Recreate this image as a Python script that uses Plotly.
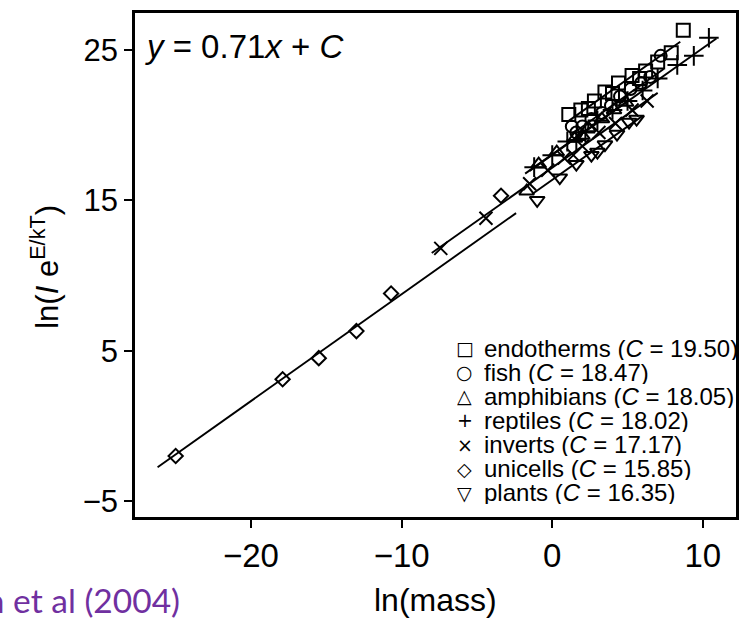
import plotly.graph_objects as go

# ---------------- data ----------------
SLOPE = 0.71
group_names = ["endotherms", "fish", "amphibians", "reptiles", "inverts", "unicells", "plants"]
intercepts = [19.50, 18.47, 18.05, 18.02, 17.17, 15.85, 16.35]
legend_glyphs = ["\u25A1", "\u25CB", "\u25B3", "+", "\u00D7", "\u25C7", "\u25BD"]
fit_x_start = [1.0, 1.2, -1.8, -1.5, -8.0, -26.2, -1.3]
fit_x_end = [8.5, 7.4, 5.0, 10.9, 7.0, -2.4, 6.0]

endotherms_x = [1.1, 1.9, 2.4, 2.8, 3.5, 4.0, 4.4, 5.3, 5.8, 6.2, 7.0, 7.9, 8.7]
endotherms_y = [20.7, 21.0, 21.1, 21.6, 22.2, 22.1, 22.8, 23.3, 23.1, 23.6, 24.2, 24.8, 26.3]

fish_x = [1.3, 1.6, 2.0, 2.6, 3.3, 3.9, 4.5, 5.2, 5.9, 6.5, 7.2]
fish_y = [19.9, 19.5, 19.9, 20.4, 20.8, 21.3, 21.9, 22.4, 22.8, 23.2, 24.6]

amphibians_x = [-1.7, -0.9, 0.3, 1.5, 2.0, 2.4, 3.3, 4.1, 4.9]
amphibians_y = [15.6, 17.4, 18.2, 19.1, 19.3, 19.8, 20.4, 21.0, 21.5]

reptiles_x = [-1.2, 0.0, 1.0, 1.6, 2.2, 3.0, 4.0, 5.0, 6.0, 7.0, 8.3, 9.4, 10.4]
reptiles_y = [17.2, 18.0, 18.9, 19.0, 19.5, 20.3, 21.0, 21.6, 22.3, 23.1, 24.0, 24.6, 25.8]

inverts_x = [-7.4, -4.4, -1.5, -0.3, 0.8, 1.4, 2.0, 3.1, 4.2, 5.3, 6.3]
inverts_y = [11.8, 13.8, 16.1, 17.0, 17.8, 18.0, 18.6, 19.5, 20.1, 21.0, 21.6]

unicells_x = [-25.0, -17.9, -15.5, -13.0, -10.7, -3.4]
unicells_y = [-2.0, 3.1, 4.5, 6.3, 8.8, 15.3]

plants_x = [-1.0, 0.5, 1.6, 2.6, 3.0, 3.5, 4.3, 5.1, 5.6]
plants_y = [15.0, 16.5, 17.4, 18.0, 18.2, 18.7, 19.4, 20.2, 20.4]

x_tick_vals = [-20, -10, 0, 10]
x_tick_text = ["\u221220", "\u221210", "0", "10"]
y_tick_vals = [-5, 5, 15, 25]
y_tick_text = ["\u22125", "5", "15", "25"]

# ---------------- figure ----------------
series_x = [endotherms_x, fish_x, amphibians_x, reptiles_x, inverts_x, unicells_x, plants_x]
series_y = [endotherms_y, fish_y, amphibians_y, reptiles_y, inverts_y, unicells_y, plants_y]
symbols = ["square-open", "circle-open", "triangle-up-open", "cross-thin-open",
           "x-thin-open", "diamond-open", "triangle-down-open"]
sizes = [13, 12, 13, 14, 13, 11, 13]

fig = go.Figure()

for i, name in enumerate(group_names):
    x0, x1 = fit_x_start[i], fit_x_end[i]
    fig.add_trace(go.Scatter(
        x=[x0, x1], y=[SLOPE * x0 + intercepts[i], SLOPE * x1 + intercepts[i]],
        mode="lines", line=dict(color="black", width=1.9), showlegend=False,
        hoverinfo="skip"))

for i, name in enumerate(group_names):
    fig.add_trace(go.Scatter(
        x=series_x[i], y=series_y[i], mode="markers", name=name,
        marker=dict(symbol=symbols[i], size=sizes[i], color="black",
                    line=dict(color="black", width=2)),
        showlegend=False))

FONT = "Liberation Sans, Arial, sans-serif"
L, R, T, B = 135, 11, 10, 102
W, H = 749, 619
pw, ph = W - L - R, H - T - B

def px_to_paper_x(px):
    return (px - L) / pw

def px_to_paper_y(py):
    return (H - B - py) / ph

annotations = []
# equation
annotations.append(dict(xref="paper", yref="paper", x=px_to_paper_x(143), y=px_to_paper_y(44),
                        xanchor="left", yanchor="middle", showarrow=False,
                        text="<i>y</i> = 0.71<i>x</i> + <i>C</i>",
                        font=dict(family=FONT, size=33, color="black")))
# legend rows
ROW_STEP = 24.3
for i, name in enumerate(group_names):
    py = 347 + i * ROW_STEP
    annotations.append(dict(xref="paper", yref="paper", x=px_to_paper_x(466), y=px_to_paper_y(py),
                            xanchor="center", yanchor="middle", showarrow=False,
                            text=legend_glyphs[i], height=22,
                            font=dict(family="DejaVu Sans", size=19, color="black")))
    annotations.append(dict(xref="paper", yref="paper", x=px_to_paper_x(483), y=px_to_paper_y(py),
                            xanchor="left", yanchor="middle", showarrow=False,
                            text=f"{name} (<i>C</i> = {intercepts[i]:.2f})", height=23,
                            font=dict(family=FONT, size=24, color="black")))
# axis titles
annotations.append(dict(xref="paper", yref="paper", x=px_to_paper_x(437), y=px_to_paper_y(600),
                        xanchor="center", yanchor="middle", showarrow=False,
                        text="ln(mass)", font=dict(family=FONT, size=32, color="black")))
annotations.append(dict(xref="paper", yref="paper", x=px_to_paper_x(45), y=px_to_paper_y(265),
                        xanchor="center", yanchor="middle", showarrow=False, textangle=-90,
                        text="ln(<i>I</i> e<sup>E/kT</sup>)",
                        font=dict(family=FONT, size=31, color="black")))
# source caption (cut at the left edge, as in the reference)
annotations.append(dict(xref="paper", yref="paper", x=px_to_paper_x(182), y=px_to_paper_y(600),
                        xanchor="right", yanchor="middle", showarrow=False,
                        text="Brown et al (2004)",
                        font=dict(family="Lato, Open Sans, sans-serif", size=33.5, color="#7030A0")))

axis_common = dict(showgrid=False, zeroline=False, showline=True, mirror=True,
                   linecolor="black", linewidth=2.5, ticks="outside", ticklen=8,
                   tickwidth=2, tickcolor="black")

fig.update_layout(
    width=W, height=H,
    margin=dict(l=L, r=R, t=T, b=B, pad=0),
    paper_bgcolor="white", plot_bgcolor="white",
    showlegend=False,
    xaxis=dict(range=[-27.7, 12.2], tickvals=x_tick_vals, ticktext=x_tick_text,
               tickfont=dict(family=FONT, size=33, color="black"), **axis_common),
    yaxis=dict(range=[-6.06, 27.45], tickvals=y_tick_vals, ticktext=y_tick_text,
               tickfont=dict(family=FONT, size=31, color="black"), **axis_common),
    annotations=annotations,
)

fig.write_html("out.html")
